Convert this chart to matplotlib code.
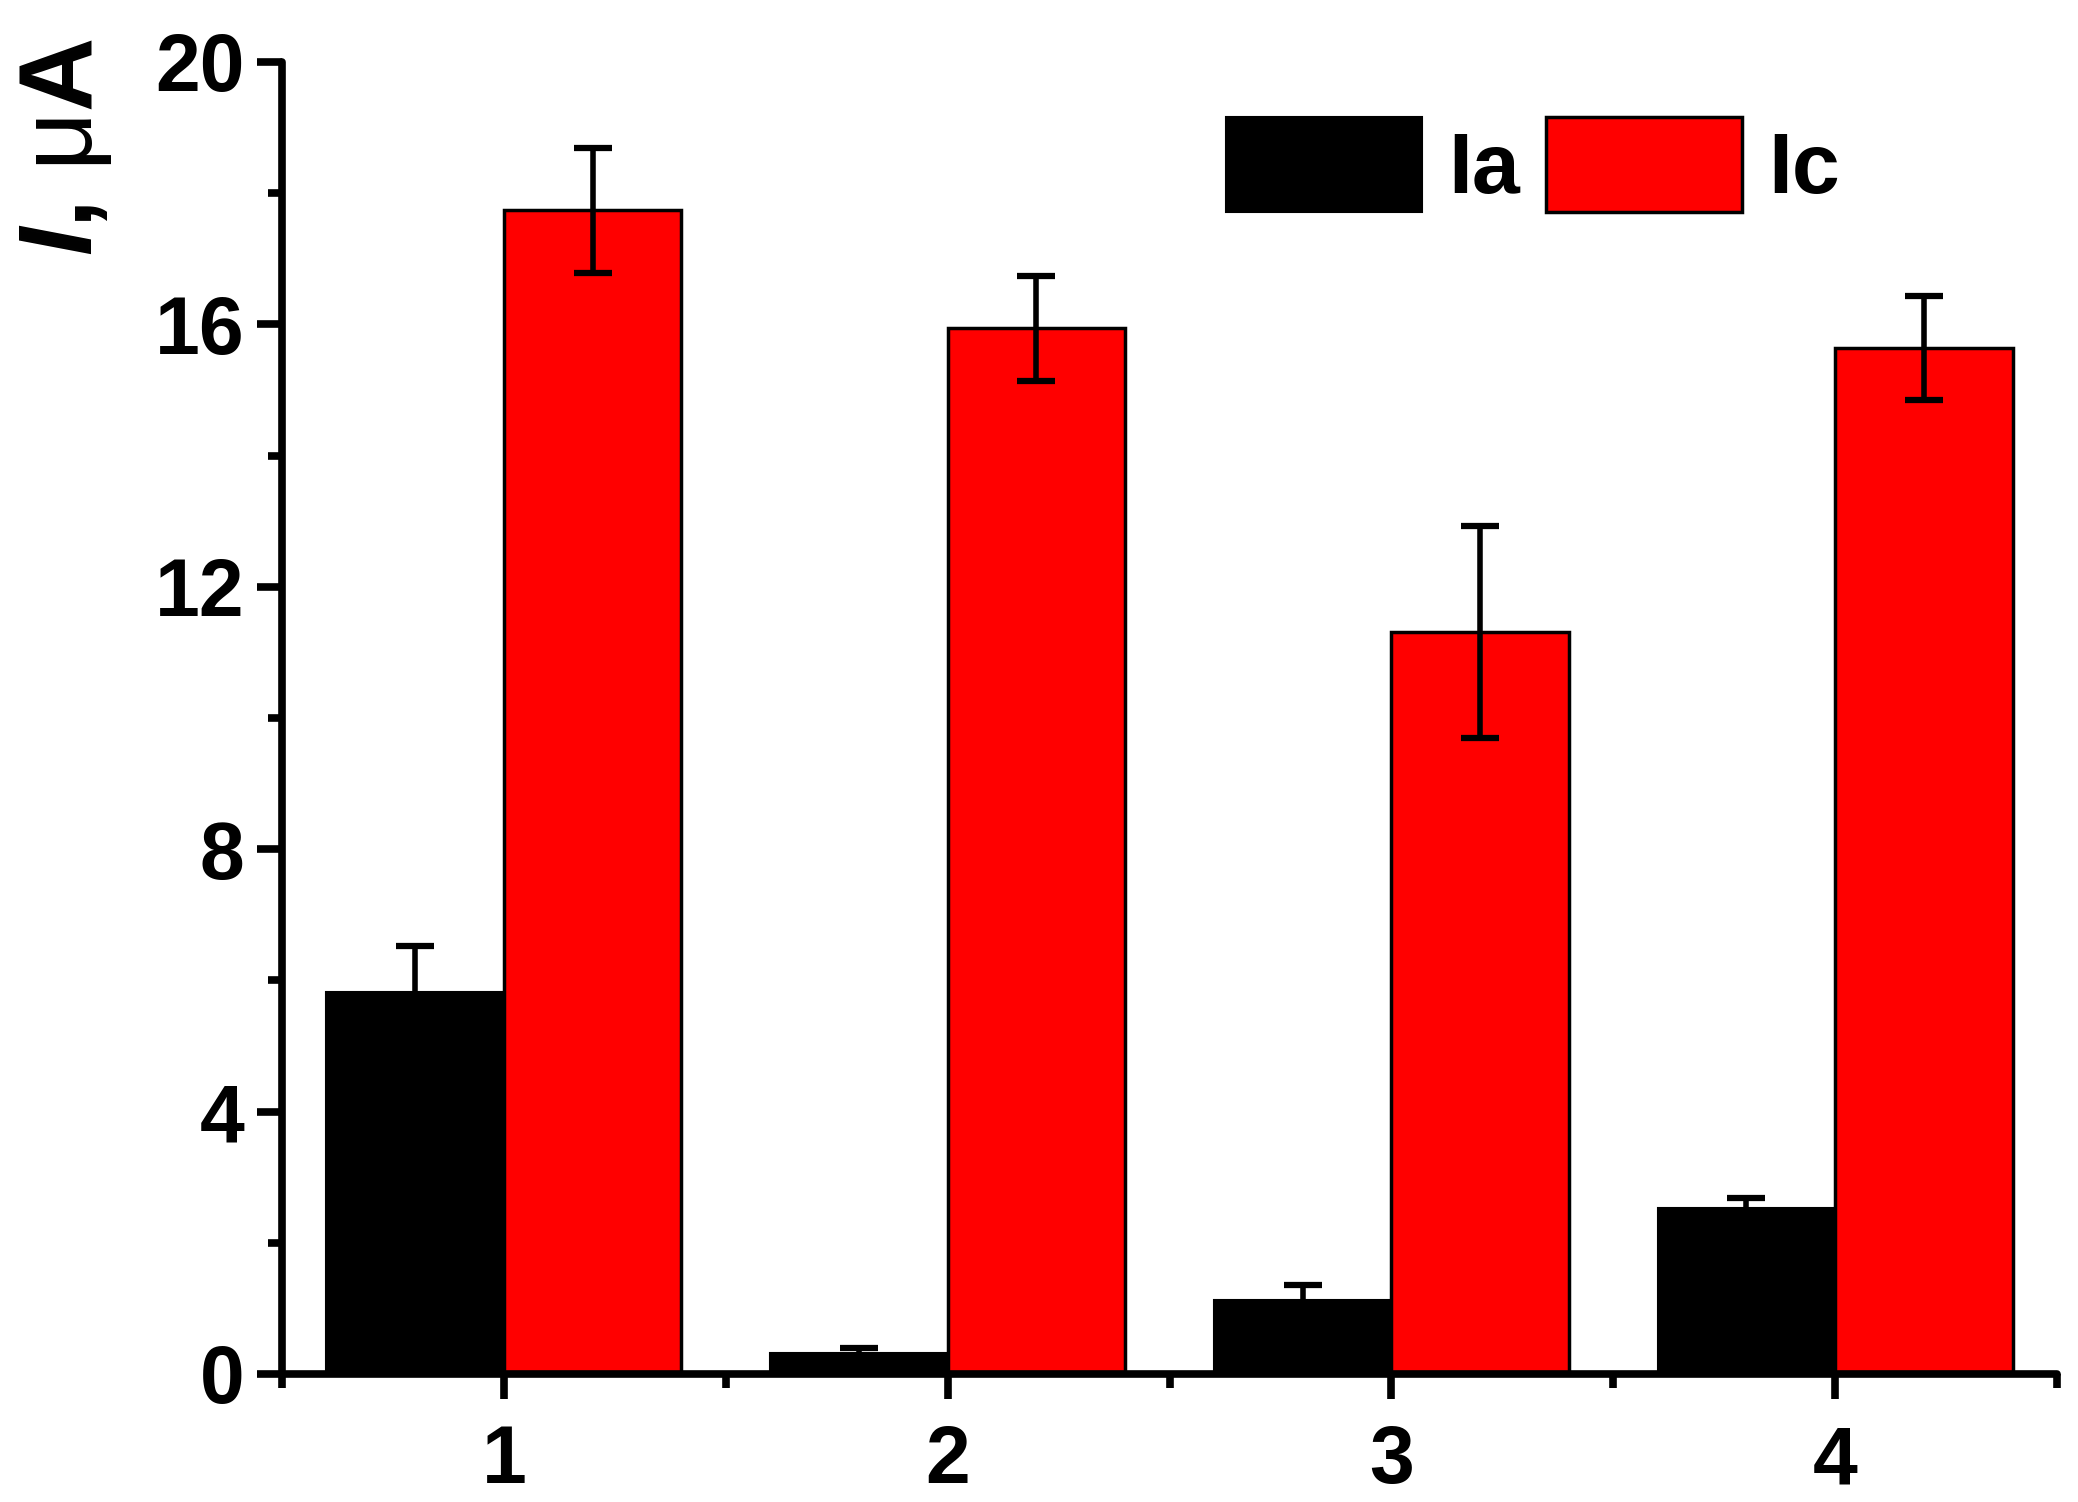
import matplotlib
matplotlib.use("Agg")
import matplotlib.pyplot as plt
import numpy as np
from matplotlib.ticker import MultipleLocator, FixedLocator

plt.rcParams['font.family'] = ['Liberation Sans', 'DejaVu Sans']
plt.rcParams['mathtext.fontset'] = 'custom'
plt.rcParams['mathtext.it'] = 'Liberation Sans:bold:italic'
plt.rcParams['mathtext.rm'] = 'Liberation Sans:bold'
plt.rcParams['mathtext.sf'] = 'Liberation Sans'

categories = [1, 2, 3, 4]
ia_values = [5.82, 0.32, 1.13, 2.53]
ia_errors = [0.70, 0.08, 0.22, 0.16]
ic_values = [17.74, 15.94, 11.31, 15.64]
ic_errors = [0.95, 0.80, 1.62, 0.80]
y_ticks = [0, 4, 8, 12, 16, 20]
x_tick_labels = ['1', '2', '3', '4']

fig = plt.figure(figsize=(20.78, 15.02), dpi=100)
ax = fig.add_axes([282/2078, 1 - 1374/1502, (2057-282)/2078, (1374-62)/1502])

x = np.array(categories, dtype=float)
w = 0.4
ax.bar(x - w/2, ia_values, width=w, color='black', edgecolor='black', linewidth=1.5, label='Ia', zorder=2)
ax.bar(x + w/2, ic_values, width=w, color='#ff0000', edgecolor='black', linewidth=2.5, label='Ic', zorder=2)

ekw = dict(fmt='none', ecolor='black', elinewidth=4, capsize=14, capthick=4.5, zorder=3)
ax.errorbar(x - w/2, ia_values, yerr=ia_errors, **ekw)
ax.errorbar(x + w/2, ic_values, yerr=ic_errors, **ekw)

ax.set_xlim(0.5, 4.5)
ax.set_ylim(0, 20)
ax.set_xticks(categories)
ax.set_xticklabels(x_tick_labels)
ax.xaxis.set_minor_locator(FixedLocator([0.5, 1.5, 2.5, 3.5, 4.5]))
ax.set_yticks(y_ticks)
ax.yaxis.set_minor_locator(MultipleLocator(2))

for s in ['top', 'right']:
    ax.spines[s].set_visible(False)
for s in ['left', 'bottom']:
    ax.spines[s].set_linewidth(5.5)
    ax.spines[s].set_capstyle('round')

ax.tick_params(axis='both', which='major', direction='out', length=18, width=5.5,
               labelsize=58)
ax.tick_params(axis='x', which='major', pad=18)
ax.tick_params(axis='y', which='major', pad=9)
ax.tick_params(axis='both', which='minor', direction='out', length=10, width=5.5)
for lab in ax.get_xticklabels() + ax.get_yticklabels():
    lab.set_fontweight('bold')

fig.text(66/2078, 1 - 38/1502, r'$I$, $\mathsf{μ}$A', rotation=90, ha='center', va='top',
         fontsize=74, fontweight='bold')

leg = fig.legend(loc='upper left', bbox_to_anchor=(1226/2078, 1 - 117/1502),
                 bbox_transform=fig.transFigure, ncol=2, frameon=False,
                 handlelength=2.28, handleheight=1.32, handletextpad=0.3,
                 columnspacing=0.3, borderpad=0, borderaxespad=0,
                 prop={'size': 62, 'weight': 'bold'})

fig.savefig('out.png', dpi=100)
